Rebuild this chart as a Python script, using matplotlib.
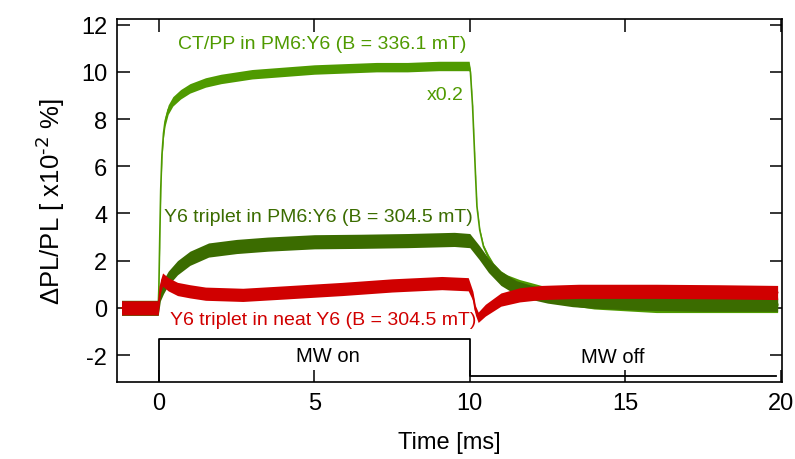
"""Transient ΔPL/PL traces: CT/PP and Y6 triplet, MW on/off."""

import matplotlib

matplotlib.use("Agg")
import matplotlib.pyplot as plt

plt.rcParams.update({
    "font.family": ["Liberation Sans", "DejaVu Sans"],
    "mathtext.default": "regular",
    "axes.unicode_minus": False,
})

# CT/PP in PM6:Y6 (scaled x0.2): time [ms], mean, noise half-width
ctpp_t = [-1.2, -0.02, 0.0, 0.03, 0.06, 0.1, 0.15, 0.2, 0.3, 0.45, 0.7, 1.0, 1.5,
          2.0, 3.0, 4.0, 5.0, 6.0, 7.0, 8.0, 9.0, 9.98, 10.02, 10.09, 10.18,
          10.23, 10.32, 10.44, 10.6, 10.76, 11.0, 11.2, 11.6, 12.3, 13.0, 14.0,
          16.0, 18.0, 19.9]
ctpp_y = [0.0, 0.0, 0.8, 3.0, 5.0, 6.5, 7.4, 7.9, 8.4, 8.75, 9.05, 9.3, 9.55,
          9.7, 9.9, 10.0, 10.1, 10.15, 10.2, 10.2, 10.25, 10.25, 10.0, 8.55, 5.75,
          4.3, 3.3, 2.6, 2.15, 1.8, 1.45, 1.25, 1.0, 0.7, 0.45, 0.25,
          0.1, 0.1, 0.1]
ctpp_hw = [0.3, 0.3, 0.2, 0.2, 0.2, 0.2, 0.2, 0.2, 0.2, 0.2, 0.2, 0.2, 0.2,
           0.2, 0.2, 0.2, 0.2, 0.2, 0.2, 0.2, 0.2, 0.2, 0.1, 0.06, 0.06,
           0.06, 0.06, 0.08, 0.1, 0.1, 0.12, 0.15, 0.2, 0.25, 0.3, 0.3,
           0.3, 0.3, 0.3]

# Y6 triplet in PM6:Y6
pm6_t = [-1.2, -0.02, 0.05, 0.15, 0.3, 0.6, 1.0, 1.6, 2.5, 3.5, 5.0, 6.5, 8.0,
         9.5, 10.0, 10.3, 10.6, 11.0, 11.5, 12.0, 12.5, 13.3, 14.0, 15.5, 17.5,
         19.9]
pm6_y = [0.0, 0.0, 0.6, 0.9, 1.25, 1.7, 2.1, 2.45, 2.6, 2.7, 2.8, 2.82, 2.85,
         2.9, 2.85, 2.35, 1.8, 1.25, 0.85, 0.65, 0.5, 0.35, 0.28, 0.2, 0.15,
         0.15]
pm6_hw = [0.32, 0.32, 0.3, 0.3, 0.3, 0.3, 0.3, 0.3, 0.3, 0.3, 0.3, 0.3, 0.3,
          0.3, 0.3, 0.3, 0.3, 0.3, 0.3, 0.3, 0.3, 0.3, 0.3, 0.3, 0.3,
          0.3]

# Y6 triplet in neat Y6
neat_t = [-1.2, -0.02, 0.05, 0.12, 0.3, 0.6, 1.0, 1.5, 2.7, 4.0, 5.9, 7.5,
          9.1, 9.95, 10.1, 10.18, 10.27, 10.5, 11.0, 11.6, 12.3, 13.5, 16.0,
          18.0, 19.9]
neat_y = [0.0, 0.0, 0.9, 1.2, 1.0, 0.8, 0.7, 0.6, 0.55, 0.65, 0.8, 0.95,
          1.05, 1.0, 0.5, -0.1, -0.4, -0.1, 0.35, 0.55, 0.65, 0.7, 0.7,
          0.68, 0.65]
neat_hw = [0.3, 0.3, 0.28, 0.28, 0.28, 0.28, 0.28, 0.28, 0.28, 0.28, 0.28, 0.28,
           0.28, 0.28, 0.2, 0.2, 0.22, 0.25, 0.28, 0.3, 0.3, 0.3, 0.3,
           0.3, 0.3]

# microwave gate trace (drawn below the data)
mw_t = [0.0, 0.0, 10.0, 10.0, 19.85]
mw_y = [-3.3, -1.32, -1.32, -2.88, -2.88]

xticks = [0, 5, 10, 15, 20]
yticks = [-2, 0, 2, 4, 6, 8, 10, 12]

LIGHT = "#4f9a00"
DARK = "#3b6c00"
RED = "#d00000"


def band(ax, t, y, hw, color, z):
    lo = [a - b for a, b in zip(y, hw)]
    hi = [a + b for a, b in zip(y, hw)]
    ax.fill_between(t, lo, hi, color=color, lw=0, zorder=z)
    ax.plot(t, y, color=color, lw=1.2, zorder=z)


fig = plt.figure(figsize=(7.95, 4.6), dpi=100)
ax = fig.add_axes([0.147, 0.167, 0.837, 0.790])

band(ax, ctpp_t, ctpp_y, ctpp_hw, LIGHT, 2)
band(ax, pm6_t, pm6_y, pm6_hw, DARK, 3)
band(ax, neat_t, neat_y, neat_hw, RED, 4)
ax.plot(mw_t, mw_y, color="black", lw=1.3, zorder=1)

ax.text(9.9, 11.2, "CT/PP in PM6:Y6 (B = 336.1 mT)", color=LIGHT,
        fontsize=14, ha="right", va="center")
ax.text(9.8, 9.05, "x0.2", color=LIGHT, fontsize=14, ha="right", va="center")
ax.text(0.15, 3.85, "Y6 triplet in PM6:Y6 (B = 304.5 mT)", color=DARK,
        fontsize=14, ha="left", va="center")
ax.text(0.35, -0.5, "Y6 triplet in neat Y6 (B = 304.5 mT)", color=RED,
        fontsize=14, ha="left", va="center")
ax.text(5.45, -2.0, "MW on", fontsize=14.5, ha="center", va="center")
ax.text(14.6, -2.05, "MW off", fontsize=14.5, ha="center", va="center")

ax.set_xlim(-1.35, 20.05)
ax.set_ylim(-3.15, 12.25)
ax.set_xticks(xticks)
ax.set_yticks(yticks)
ax.tick_params(direction="in", length=9, width=1.1, labelsize=17, pad=7,
               top=True, right=True)
for s in ax.spines.values():
    s.set_linewidth(1.2)
ax.set_xlabel("Time [ms]", fontsize=17, labelpad=12)
ax.set_ylabel(r"ΔPL/PL [ x10$^{\text{-2}}$ %]", fontsize=18.5, labelpad=10)

fig.savefig("out.png", dpi=100)
